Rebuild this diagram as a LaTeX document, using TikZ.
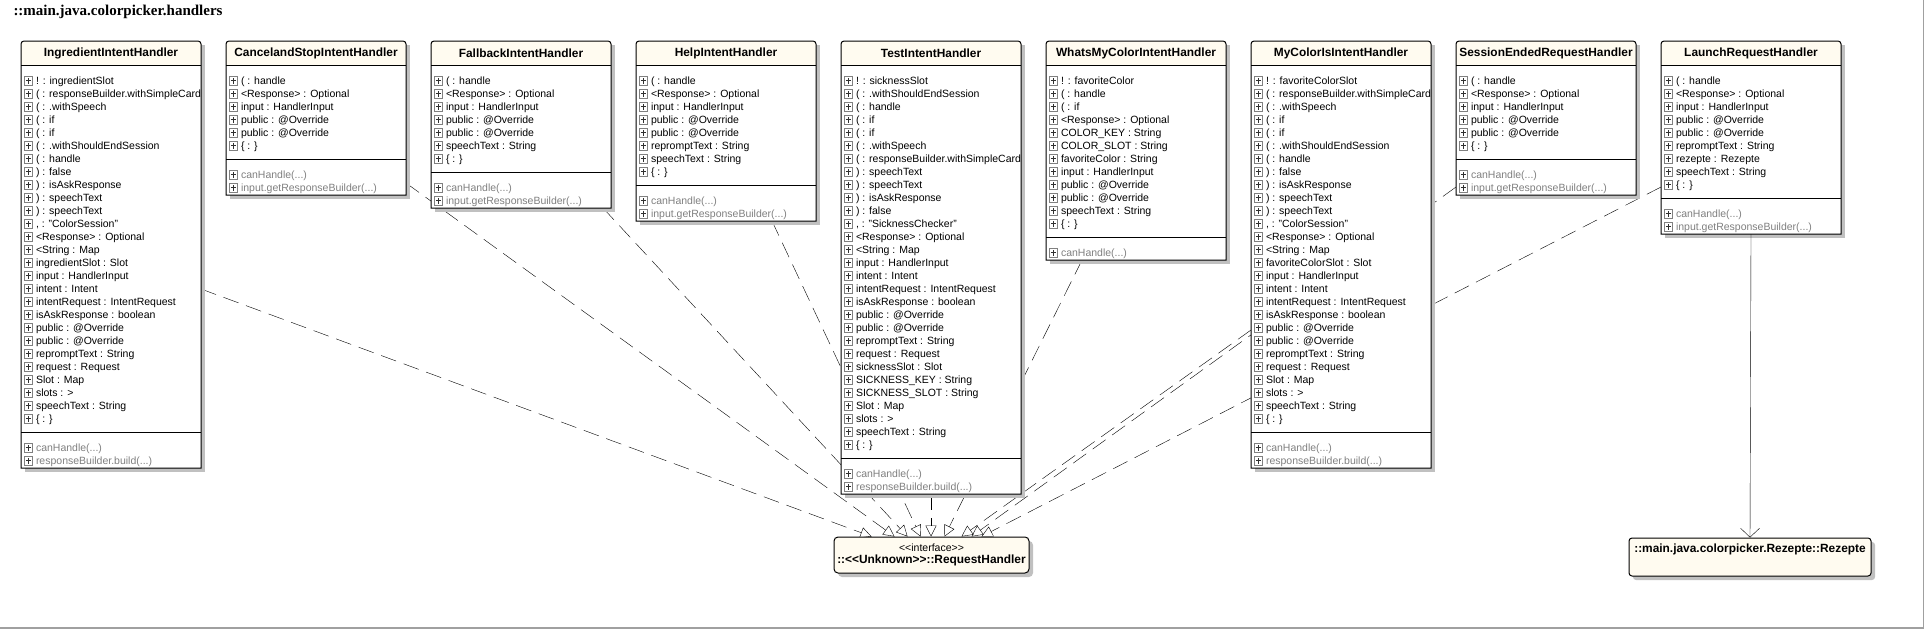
\documentclass[tikz,border=0pt]{standalone}
\usepackage{fontspec}
\setmainfont{Liberation Sans}
\newfontfamily\pkgfont{Liberation Serif}
\usetikzlibrary{arrows.meta,calc}
\pgfdeclarelayer{bg}
\pgfsetlayers{bg,main}
\definecolor{hdr}{RGB}{255,251,240}
\definecolor{shd}{RGB}{192,192,192}
\definecolor{icb}{RGB}{128,128,128}
\definecolor{icp}{RGB}{48,48,48}
\definecolor{mth}{RGB}{128,128,128}
\definecolor{frm}{RGB}{160,160,160}
\newcommand\dlt{<\kern0pt<}
\newcommand\dgt{>\kern0pt>}
\newcommand\pl{\raisebox{-0.5pt}{\setlength\fboxsep{0pt}\setlength\fboxrule{0.8pt}\fcolorbox{icb}{white}{\makebox[7.4pt]{\rule{0pt}{7.4pt}\makebox[0pt]{\color{icp}\rule[3.2pt]{5.4pt}{1.1pt}}\makebox[0pt]{\color{icp}\rule[1pt]{1.1pt}{5.4pt}}}}}}
\newcommand\rw[1]{\pl\hspace{3pt}#1}
\newcommand\umlclass[7]{%
  \pgfmathsetmacro\usep{81+13*#4}%
  \pgfmathsetmacro\ubot{\usep+10+13*#6}%
  \pgfmathsetmacro\ucx{#2+90}%
  \pgfmathsetmacro\ucy{(41+\ubot)/2}%
  \pgfmathsetmacro\uhh{\ubot-41}%
  \fill[shd] (#2+4,45) rectangle (#2+184,\ubot+4);
  \node[classnode, minimum height=\uhh pt] (#1) at (\ucx,\ucy) {};
  \fill[white] (#1.south west) rectangle (#1.north east);
  \fill[hdr] (#2,65) [rounded corners=3pt] -- (#2,41) -- (#2+180,41) [sharp corners] -- (#2+180,65) -- cycle;
  \draw (#2,65) -- (#2+180,65);
  \draw (#2,\usep) -- (#2+180,\usep);
  \draw (#1.south west) [rounded corners=3pt] -- (#1.north west) -- (#1.north east) [sharp corners] -- (#1.south east) -- cycle;
  \node[titlefnt] (#1-t) at (\ucx,53) {#3};
  \node[rows, anchor=base west] (#1-a) at (#2+3,84) {\begin{tabular}[t]{@{}l@{}}#5\end{tabular}};
  \node[rows, text=mth, anchor=base west] (#1-m) at (#2+3,\usep+19) {\begin{tabular}[t]{@{}l@{}}#7\end{tabular}};
}
\begin{document}
\begin{tikzpicture}[x=1pt,y=-1pt,
  line width=1pt,
  classnode/.style={inner sep=0pt, outer sep=0pt, minimum width=180pt},
  rows/.style={inner sep=0pt, outer sep=0pt, font=\fontsize{10.5}{13}\selectfont},
  titlefnt/.style={inner sep=0pt, font=\bfseries\fontsize{11.9}{13}\selectfont},
  realiz/.style={dash pattern=on 16pt off 8pt, -{Triangle[open, length=11pt, width=11pt]}},
  assoc/.style={-{Straight Barb[length=9pt, width=19pt]}}]
\useasboundingbox (0,0) rectangle (1925,629);
\draw[frm, line width=1.5pt] (0,628) -- (1923.5,628) -- (1923.5,0);
\node[anchor=base west, inner sep=0pt, font=\pkgfont\bfseries\fontsize{15}{17}\selectfont] (pkg) at (13,16) {::main.java.colorpicker.handlers};

\umlclass{ing}{21}{IngredientIntentHandler}{27}{%
\rw{! : ingredientSlot}\\
\rw{( : responseBuilder.withSimpleCard}\\
\rw{( : .withSpeech}\\
\rw{( : if}\\
\rw{( : if}\\
\rw{( : .withShouldEndSession}\\
\rw{( : handle}\\
\rw{) : false}\\
\rw{) : isAskResponse}\\
\rw{) : speechText}\\
\rw{) : speechText}\\
\rw{, : "ColorSession"}\\
\rw{<Response> : Optional}\\
\rw{<String : Map}\\
\rw{ingredientSlot : Slot}\\
\rw{input : HandlerInput}\\
\rw{intent : Intent}\\
\rw{intentRequest : IntentRequest}\\
\rw{isAskResponse : boolean}\\
\rw{public : @Override}\\
\rw{public : @Override}\\
\rw{repromptText : String}\\
\rw{request : Request}\\
\rw{Slot : Map}\\
\rw{slots : >}\\
\rw{speechText : String}\\
\rw{\{ : \}}}{2}{%
\rw{canHandle(...)}\\
\rw{responseBuilder.build(...)}}

\umlclass{cas}{226}{CancelandStopIntentHandler}{6}{%
\rw{( : handle}\\
\rw{<Response> : Optional}\\
\rw{input : HandlerInput}\\
\rw{public : @Override}\\
\rw{public : @Override}\\
\rw{\{ : \}}}{2}{%
\rw{canHandle(...)}\\
\rw{input.getResponseBuilder(...)}}

\umlclass{fb}{431}{FallbackIntentHandler}{7}{%
\rw{( : handle}\\
\rw{<Response> : Optional}\\
\rw{input : HandlerInput}\\
\rw{public : @Override}\\
\rw{public : @Override}\\
\rw{speechText : String}\\
\rw{\{ : \}}}{2}{%
\rw{canHandle(...)}\\
\rw{input.getResponseBuilder(...)}}

\umlclass{help}{636}{HelpIntentHandler}{8}{%
\rw{( : handle}\\
\rw{<Response> : Optional}\\
\rw{input : HandlerInput}\\
\rw{public : @Override}\\
\rw{public : @Override}\\
\rw{repromptText : String}\\
\rw{speechText : String}\\
\rw{\{ : \}}}{2}{%
\rw{canHandle(...)}\\
\rw{input.getResponseBuilder(...)}}

\umlclass{test}{841}{TestIntentHandler}{29}{%
\rw{! : sicknessSlot}\\
\rw{( : .withShouldEndSession}\\
\rw{( : handle}\\
\rw{( : if}\\
\rw{( : if}\\
\rw{( : .withSpeech}\\
\rw{( : responseBuilder.withSimpleCard}\\
\rw{) : speechText}\\
\rw{) : speechText}\\
\rw{) : isAskResponse}\\
\rw{) : false}\\
\rw{, : "SicknessChecker"}\\
\rw{<Response> : Optional}\\
\rw{<String : Map}\\
\rw{input : HandlerInput}\\
\rw{intent : Intent}\\
\rw{intentRequest : IntentRequest}\\
\rw{isAskResponse : boolean}\\
\rw{public : @Override}\\
\rw{public : @Override}\\
\rw{repromptText : String}\\
\rw{request : Request}\\
\rw{sicknessSlot : Slot}\\
\rw{SICKNESS\_KEY : String}\\
\rw{SICKNESS\_SLOT : String}\\
\rw{Slot : Map}\\
\rw{slots : >}\\
\rw{speechText : String}\\
\rw{\{ : \}}}{2}{%
\rw{canHandle(...)}\\
\rw{responseBuilder.build(...)}}

\umlclass{wmc}{1046}{WhatsMyColorIntentHandler}{12}{%
\rw{! : favoriteColor}\\
\rw{( : handle}\\
\rw{( : if}\\
\rw{<Response> : Optional}\\
\rw{COLOR\_KEY : String}\\
\rw{COLOR\_SLOT : String}\\
\rw{favoriteColor : String}\\
\rw{input : HandlerInput}\\
\rw{public : @Override}\\
\rw{public : @Override}\\
\rw{speechText : String}\\
\rw{\{ : \}}}{1}{%
\rw{canHandle(...)}}

\umlclass{mci}{1251}{MyColorIsIntentHandler}{27}{%
\rw{! : favoriteColorSlot}\\
\rw{( : responseBuilder.withSimpleCard}\\
\rw{( : .withSpeech}\\
\rw{( : if}\\
\rw{( : if}\\
\rw{( : .withShouldEndSession}\\
\rw{( : handle}\\
\rw{) : false}\\
\rw{) : isAskResponse}\\
\rw{) : speechText}\\
\rw{) : speechText}\\
\rw{, : "ColorSession"}\\
\rw{<Response> : Optional}\\
\rw{<String : Map}\\
\rw{favoriteColorSlot : Slot}\\
\rw{input : HandlerInput}\\
\rw{intent : Intent}\\
\rw{intentRequest : IntentRequest}\\
\rw{isAskResponse : boolean}\\
\rw{public : @Override}\\
\rw{public : @Override}\\
\rw{repromptText : String}\\
\rw{request : Request}\\
\rw{Slot : Map}\\
\rw{slots : >}\\
\rw{speechText : String}\\
\rw{\{ : \}}}{2}{%
\rw{canHandle(...)}\\
\rw{responseBuilder.build(...)}}

\umlclass{ses}{1456}{SessionEndedRequestHandler}{6}{%
\rw{( : handle}\\
\rw{<Response> : Optional}\\
\rw{input : HandlerInput}\\
\rw{public : @Override}\\
\rw{public : @Override}\\
\rw{\{ : \}}}{2}{%
\rw{canHandle(...)}\\
\rw{input.getResponseBuilder(...)}}

\umlclass{lrh}{1661}{LaunchRequestHandler}{9}{%
\rw{( : handle}\\
\rw{<Response> : Optional}\\
\rw{input : HandlerInput}\\
\rw{public : @Override}\\
\rw{public : @Override}\\
\rw{repromptText : String}\\
\rw{rezepte : Rezepte}\\
\rw{speechText : String}\\
\rw{\{ : \}}}{2}{%
\rw{canHandle(...)}\\
\rw{input.getResponseBuilder(...)}}

% interface
\fill[shd, rounded corners=4pt] (838,541) rectangle (1033,577);
\node[draw, fill=hdr, rounded corners=4pt, minimum width=195pt, minimum height=36pt, inner sep=0pt, align=center, font=\fontsize{10.5}{12}\selectfont] (rh) at (931.5,555) {\dlt interface\dgt\\\bfseries\fontsize{11.9}{12}\selectfont ::\dlt Unknown\dgt::RequestHandler};

% Rezepte
\fill[shd, rounded corners=3pt] (1633,542) rectangle (1875,580);
\node[draw, fill=hdr, rounded corners=3pt, minimum width=242pt, minimum height=38pt, inner sep=0pt] (rez) at (1750,557) {};
\node[titlefnt] (rez-t) at (1750,549.5) {::main.java.colorpicker.Rezepte::Rezepte};

\begin{pgfonlayer}{bg}
\draw[realiz] ([yshift=-248pt]ing.north east) -- ([xshift=38pt]rh.north west);
\draw[realiz] ([yshift=12pt]cas.south east) -- ([xshift=61pt]rh.north west);
\draw[realiz] ([xshift=-8pt]fb.south east) -- ([xshift=74pt]rh.north west);
\draw[realiz] ([xshift=46pt]help.south) -- ([xshift=87pt]rh.north west);
\draw[realiz] (test.south) -- (test.south |- rh.north);
\draw[realiz] ([xshift=-54pt]wmc.south) -- ([xshift=111pt]rh.north west);
\draw[realiz] ([yshift=-289pt]mci.north west) -- ([xshift=128pt]rh.north west);
\draw[realiz] ([yshift=8pt]ses.south west) -- ([xshift=138pt]rh.north west);
\draw[realiz] ([yshift=47pt]lrh.south west) -- ([xshift=148pt]rh.north west);
\end{pgfonlayer}
\draw[assoc] (lrh.south) -- (rez.north);
\end{tikzpicture}
\end{document}
